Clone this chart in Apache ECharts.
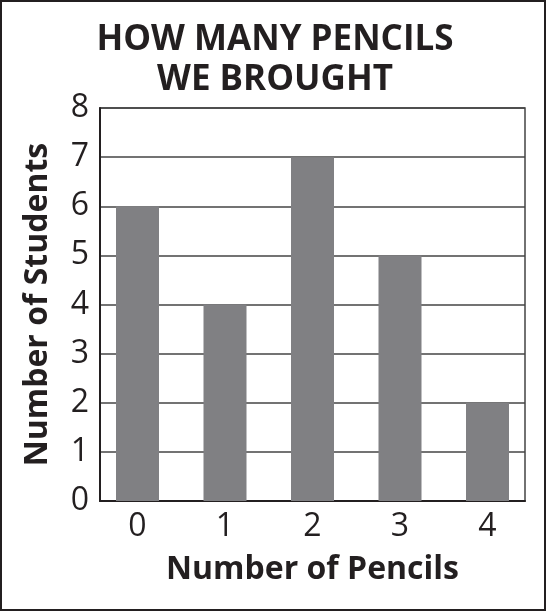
<!DOCTYPE html>
<html>
<head>
<meta charset="utf-8">
<script src="https://cdn.jsdelivr.net/npm/echarts@6/dist/echarts.min.js"></script>
<style>
  html, body { margin: 0; padding: 0; background: #fff; }
  #chart { width: 546px; height: 611px; }
</style>
</head>
<body>
<div id="chart"></div>
<script>
// data
var pencils = [0, 1, 2, 3, 4];
var students = [6, 4, 7, 5, 2];
var yTicks = [0, 1, 2, 3, 4, 5, 6, 7, 8];

var ink = '#231f20';
var fontFam = '"Open Sans", "Noto Sans", sans-serif';

var barData = [];
for (var i = 0; i < pencils.length; i++) {
  barData.push([pencils[i], students[i]]);
}

var option = {
  animation: false,
  backgroundColor: '#fff',
  title: {
    text: 'HOW MANY PENCILS\nWE BROUGHT',
    left: 270,
    top: 15,
    textAlign: 'center',
    textStyle: {
      fontFamily: fontFam,
      fontWeight: 'bold',
      fontSize: 35,
      lineHeight: 40,
      color: ink
    }
  },
  graphic: [{
    type: 'rect',
    shape: { x: 1, y: 1, width: 544, height: 609 },
    style: { fill: 'none', stroke: ink, lineWidth: 2 },
    silent: true
  }],
  grid: {
    left: 100,
    right: 21,
    top: 108,
    bottom: 110,
    show: true,
    borderColor: '#444',
    borderWidth: 1.5
  },
  xAxis: {
    type: 'value',
    // a bit of space either side of the first and last bar
    min: -3 / 7,
    max: 4 + 3 / 7,
    name: 'Number of Pencils',
    nameLocation: 'middle',
    nameGap: 53,
    nameTextStyle: { fontFamily: fontFam, fontWeight: 'bold', fontSize: 32, color: ink },
    axisLine: { onZero: false, lineStyle: { color: ink, width: 2 } },
    axisTick: { show: false },
    splitLine: { show: false },
    axisLabel: {
      customValues: pencils,
      fontFamily: fontFam, fontSize: 32, color: ink, margin: 10
    }
  },
  yAxis: {
    type: 'value',
    min: yTicks[0],
    max: yTicks[yTicks.length - 1],
    interval: 1,
    name: 'Number of Students',
    nameLocation: 'middle',
    nameGap: 46,
    nameTextStyle: { fontFamily: fontFam, fontWeight: 'bold', fontSize: 32, color: ink },
    axisLine: { show: true, onZero: false, lineStyle: { color: ink, width: 2 } },
    axisTick: { show: false },
    axisLabel: { fontFamily: fontFam, fontSize: 32, color: ink, margin: 11 },
    splitLine: { lineStyle: { color: '#444', width: 1.5 } }
  },
  series: [{
    type: 'bar',
    data: barData,
    barWidth: 43,
    itemStyle: { color: '#808083' }
  }]
};

var myChart = echarts.init(document.getElementById('chart'));
myChart.setOption(option);
</script>
</body>
</html>
